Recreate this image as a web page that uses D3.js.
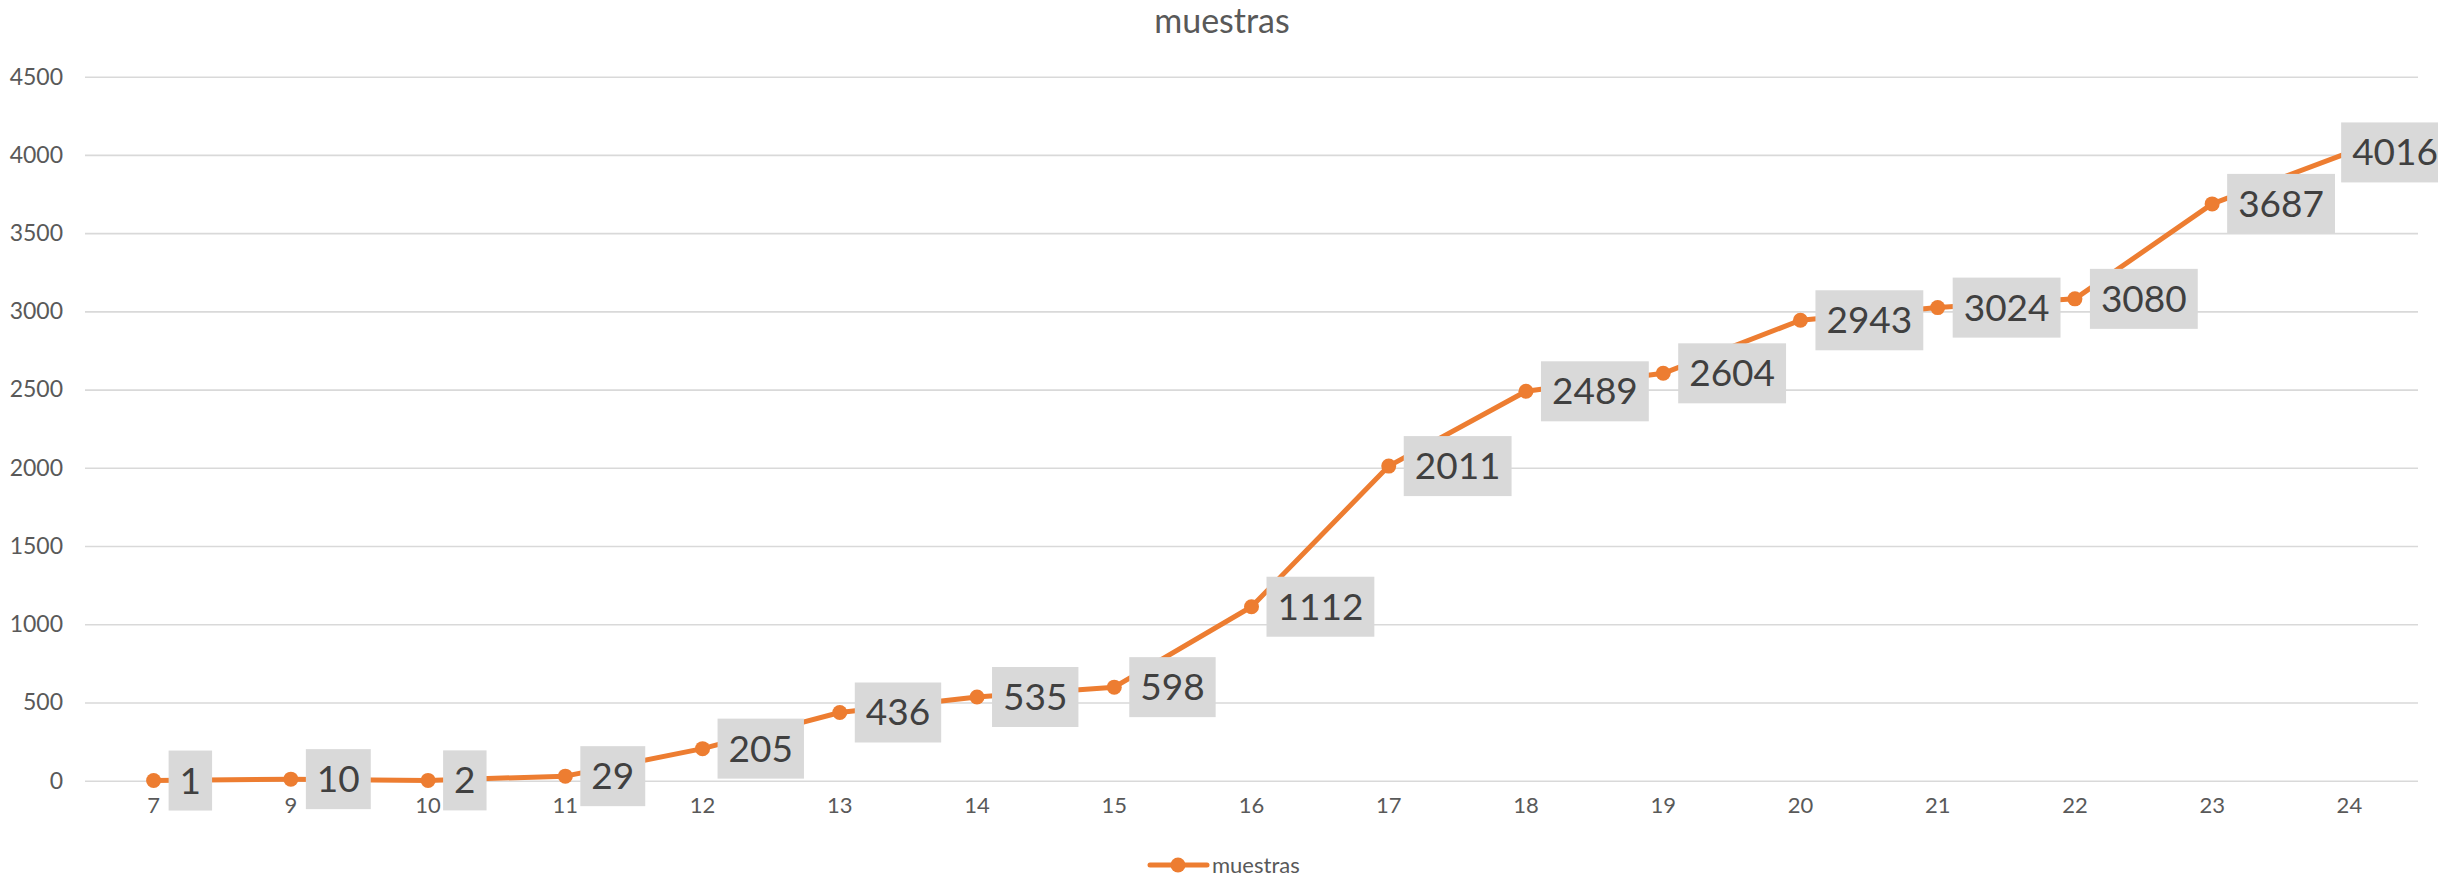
<!DOCTYPE html>
<html>
<head>
<meta charset="utf-8">
<script src="https://cdn.jsdelivr.net/npm/d3@7"></script>
<style>
  body { margin: 0; background: #fff; }
  text { font-family: Lato, "Open Sans", sans-serif; }
</style>
</head>
<body>
<div id="chart"></div>
<script>
// data
var days = ["7", "9", "10", "11", "12", "13", "14", "15", "16", "17", "18", "19", "20", "21", "22", "23", "24"];
var muestras = [1, 10, 2, 29, 205, 436, 535, 598, 1112, 2011, 2489, 2604, 2943, 3024, 3080, 3687, 4016];
var yTicks = [0, 500, 1000, 1500, 2000, 2500, 3000, 3500, 4000, 4500];

var width = 2450, height = 879;
var plot = {left: 85, right: 2418, top: 76.7, bottom: 780.7};
var orange = "#ED7D31";

var svg = d3.select("#chart")
  .append("svg")
    .attr("width", width)
    .attr("height", height);

var x = d3.scaleBand()
    .domain(days)
    .range([plot.left, plot.right]);

var y = d3.scaleLinear()
    .domain([0, 4500])
    .range([plot.bottom, plot.top]);

var px = d => x(d) + x.bandwidth() / 2;

// title
svg.append("text")
    .attr("x", 1222)
    .attr("y", 33)
    .attr("text-anchor", "middle")
    .style("font-size", "34px")
    .style("fill", "#595959")
    .text("muestras");

// gridlines + y labels
var yAxis = d3.axisLeft(y)
    .tickValues(yTicks)
    .tickFormat(d3.format("d"))
    .tickSize(-(plot.right - plot.left))
    .tickPadding(22);

svg.append("g")
    .attr("transform", "translate(" + plot.left + ",0)")
    .call(yAxis)
    .call(g => g.select(".domain").remove())
    .call(g => g.selectAll(".tick line").attr("stroke", "#D9D9D9").attr("stroke-width", 1.6))
    .call(g => g.selectAll(".tick text")
        .style("font-size", "23px")
        .style("font-family", "Lato, 'Open Sans', sans-serif")
        .style("fill", "#595959"));

// x labels
var xAxis = d3.axisBottom(x).tickSize(0).tickPadding(17);
svg.append("g")
    .attr("transform", "translate(0," + plot.bottom + ")")
    .call(xAxis)
    .call(g => g.select(".domain").remove())
    .call(g => g.selectAll(".tick text")
        .style("font-size", "22px")
        .style("font-family", "Lato, 'Open Sans', sans-serif")
        .style("fill", "#595959"));

var pts = days.map((d, i) => ({day: d, value: muestras[i]}));

// line
var line = d3.line()
    .x(d => px(d.day))
    .y(d => y(d.value));

svg.append("path")
    .datum(pts)
    .attr("d", line)
    .attr("fill", "none")
    .attr("stroke", orange)
    .attr("stroke-width", 5)
    .attr("stroke-linejoin", "round");

svg.selectAll("circle.pt")
    .data(pts)
    .enter()
    .append("circle")
    .attr("class", "pt")
    .attr("cx", d => px(d.day))
    .attr("cy", d => y(d.value))
    .attr("r", 7.5)
    .attr("fill", orange);

// data labels with grey boxes
svg.append("clipPath")
    .attr("id", "clipArea")
  .append("rect")
    .attr("x", 0).attr("y", 0)
    .attr("width", 2438).attr("height", height);

var labels = svg.append("g").attr("clip-path", "url(#clipArea)");
var padX = 11, boxH = 60, maxRight = 2438;

pts.forEach(d => {
  var g = labels.append("g");
  var rect = g.append("rect").attr("fill", "#D9D9D9");
  var t = g.append("text")
      .style("font-size", "37px")
      .style("fill", "#404040")
      .text(d.value);
  var tw = t.node().getComputedTextLength();
  var w = tw + 2 * padX;
  var bx = Math.min(px(d.day) + 15, maxRight + padX - w);
  var cy = y(d.value);
  rect.attr("x", bx).attr("y", cy - boxH / 2)
      .attr("width", w).attr("height", boxH);
  t.attr("x", bx + padX).attr("y", cy + 13);
});

// legend
var leg = svg.append("g");
leg.append("line")
    .attr("x1", 1150).attr("x2", 1207)
    .attr("y1", 865).attr("y2", 865)
    .attr("stroke", orange)
    .attr("stroke-width", 5)
    .attr("stroke-linecap", "round");
leg.append("circle")
    .attr("cx", 1178).attr("cy", 865)
    .attr("r", 7.5)
    .attr("fill", orange);
leg.append("text")
    .attr("x", 1212).attr("y", 873)
    .style("font-size", "22px")
    .style("fill", "#595959")
    .text("muestras");
</script>
</body>
</html>
